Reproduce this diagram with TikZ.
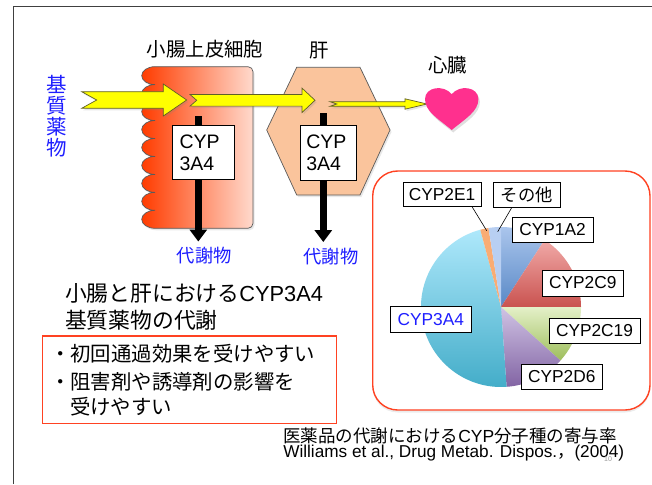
\documentclass[tikz,border=0pt]{standalone}
\usepackage{fontspec}
\setmainfont{Liberation Sans}
\newfontfamily\jp{Noto Sans CJK JP}
\usetikzlibrary{arrows.meta,shadows}

\definecolor{frameline}{HTML}{404040}
\definecolor{substblue}{RGB}{30,30,255}
\definecolor{boxred}{RGB}{255,66,34}
\definecolor{cellleft}{RGB}{255,60,0}
\definecolor{cellmid}{RGB}{255,125,85}
\definecolor{cellright}{RGB}{255,218,205}
\definecolor{liverfill}{RGB}{250,196,156}
\definecolor{heartpink}{RGB}{255,48,142}
\definecolor{arrowyellow}{RGB}{255,255,0}
\definecolor{arrowedge}{RGB}{95,95,40}
\definecolor{outlinegray}{RGB}{90,90,90}
% pie colours (light top, dark bottom)
\definecolor{pA}{RGB}{170,197,236}\definecolor{pAd}{RGB}{88,136,198}
\definecolor{pB}{RGB}{241,170,168}\definecolor{pBd}{RGB}{201,82,79}
\definecolor{pC}{RGB}{228,240,200}\definecolor{pCd}{RGB}{158,190,92}
\definecolor{pD}{RGB}{208,195,228}\definecolor{pDd}{RGB}{130,100,164}
\definecolor{pE}{RGB}{174,232,251}\definecolor{pEd}{RGB}{66,172,200}
\definecolor{pF}{RGB}{249,172,116}
\definecolor{pG}{RGB}{184,207,242}

% notched block arrow: x tail, x tip, y centre, shaft half height,
% head half height, head length, notch depth
\newcommand{\blockarrow}[7]{%
  \filldraw[yellowarrow] (#1,#3-#4) -- (#2-#6,#3-#4) -- (#2-#6,#3-#5) -- (#2,#3)
    -- (#2-#6,#3+#5) -- (#2-#6,#3+#4) -- (#1,#3+#4) -- (#1+#7,#3) -- cycle;}

\begin{document}
\begin{tikzpicture}[x=1pt,y=-1pt,
  every node/.style={inner sep=0pt,outer sep=0pt},
  head/.style={font=\jp\fontsize{19.4}{22}\selectfont},
  bluelabel/.style={text=substblue,font=\jp\fontsize{18.3}{21}\selectfont},
  cypbox/.style={draw=black,line width=0.7,fill=white,align=left,
    font=\fontsize{19.5}{22}\selectfont},
  metabarrow/.style={line width=7.3,-{Triangle[width=17,length=12]},shorten >=6pt},
  yellowarrow/.style={fill=arrowyellow,draw=arrowedge,line width=0.7,
    drop shadow={opacity=0.2,shadow xshift=1.5pt,shadow yshift=-2pt}},
  pielabel/.style={draw=black,line width=0.7,fill=white,
    font=\fontsize{17.3}{20}\selectfont},
  bodytext/.style={anchor=west,font=\fontsize{21.8}{26}\selectfont},
  bullettext/.style={anchor=west,font=\jp\fontsize{20.4}{24}\selectfont},
  captiontext/.style={anchor=west,font=\fontsize{17.5}{20}\selectfont},
]
\useasboundingbox (0,0) rectangle (652,484);

% slide frame
\draw[frameline,line width=1.4] (13.3,484) -- (13.3,6.7) -- (652,6.7);

% intestinal epithelial cell with villi on its luminal side
\shade[left color=cellleft,middle color=cellmid,right color=cellright,
  draw=outlinegray,line width=0.7,
  drop shadow={opacity=0.18,shadow xshift=1.5pt,shadow yshift=-2pt}]
  (155,66.7) -- (248,66.7) arc[start angle=-90,end angle=0,radius=5]
  -- (253,223.3) arc[start angle=0,end angle=90,radius=5]
  -- (155,228.3)
  \foreach \i in {1,...,9} { arc[start angle=90,end angle=270,x radius=13.3,y radius=8.98] }
  -- cycle;

% liver
\filldraw[fill=liverfill,draw=outlinegray,line width=0.7,
  drop shadow={opacity=0.18,shadow xshift=1.5pt,shadow yshift=-2pt}]
  (296.7,67.3) -- (360,67.3) -- (390,130) -- (360,195) -- (296.7,195)
  -- (266.7,130) -- cycle;

% heading labels
\node[head] (cellname) at (205,49) {小腸上皮細胞};
\node[head] (livername) at (319,50) {肝};
\node[head] (heartname) at (447.5,65.5) {心臓};
\node[text=substblue,font=\jp\fontsize{20.5}{21}\selectfont,align=center]
  (substrate) at (56.7,116.5) {基\\質\\薬\\物};

% metabolites
\node[bluelabel] (metab1) at (204.2,256) {代謝物};
\node[bluelabel] (metab2) at (331,256.5) {代謝物};
\coordinate (top1) at (198.3,116);
\coordinate (top2) at (323.3,113.3);
\draw[metabarrow] (top1) -- (top1 |- metab1.north);
\draw[metabarrow] (top2) -- (top2 |- metab2.north);

% CYP3A4 in each organ
\node[cypbox,minimum width=61.6,minimum height=53.3,text width=48] (cyp1)
  at (203.5,152.3) {CYP\\3A4};
\node[cypbox,minimum width=56.7,minimum height=55,text width=44] (cyp2)
  at (328.3,152.5) {CYP\\3A4};

% drug flow: lumen -> enterocyte -> liver -> heart
\blockarrow{81.7}{186.7}{100}{8.3}{16}{23.4}{15}
\blockarrow{190}{315}{100.3}{5.8}{12.2}{13}{6.7}
\blockarrow{330}{427}{104}{2.3}{5.2}{22}{6.7}

% heart
\begin{scope}[shift={(451.7,105.3)},xscale=26.7,yscale=-24.7]
  \fill[heartpink,drop shadow={opacity=0.25,shadow xshift=1.5pt,shadow yshift=-2.5pt}]
    (0,-1) .. controls (-0.5,-0.55) and (-1,-0.25) .. (-1,0.25)
    .. controls (-1,0.75) and (-0.3,0.85) .. (0,0.45)
    .. controls (0.3,0.85) and (1,0.75) .. (1,0.25)
    .. controls (1,-0.25) and (0.5,-0.55) .. (0,-1) -- cycle;
\end{scope}

% summary text
\node[bodytext] (sum1) at (65,293.3) {{\jp 小腸と肝における}CYP3A4};
\node[bodytext] (sum2) at (65,320) {{\jp 基質薬物の代謝}};
\draw[boxred,line width=1.3] (42.7,336) rectangle (336.7,423.3);
\node[bullettext] (pt1) at (50,353.3) {・初回通過効果を受けやすい};
\node[bullettext] (pt2) at (50,381.7) {・阻害剤や誘導剤の影響を};
\node[bullettext] (pt3) at (70,406.7) {受けやすい};

% contribution of CYP isoforms
\draw[boxred,line width=1.4,rounded corners=25,fill=white,
  drop shadow={opacity=0.15,shadow xshift=0pt,shadow yshift=-2.5pt}]
  (372.7,171) rectangle (650,410);

\begin{scope}[shift={(501,307)},yscale=-1]
  \shade[top color=pA,bottom color=pAd] (0,0) -- (57:80) arc[start angle=57,end angle=90,radius=80] -- cycle;
  \shade[top color=pB,bottom color=pBd] (0,0) -- (0:80) arc[start angle=0,end angle=57,radius=80] -- cycle;
  \shade[top color=pC,bottom color=pCd] (0,0) -- (-42:80) arc[start angle=-42,end angle=0,radius=80] -- cycle;
  \shade[top color=pD,bottom color=pDd] (0,0) -- (-86:80) arc[start angle=-86,end angle=-42,radius=80] -- cycle;
  \shade[top color=pE,bottom color=pEd] (0,0) -- (105:80) arc[start angle=105,end angle=274,radius=80] -- cycle;
  \fill[pF] (0,0) -- (99:80) arc[start angle=99,end angle=105,radius=80] -- cycle;
  \fill[pG] (0,0) -- (90:80) arc[start angle=90,end angle=99,radius=80] -- cycle;
\end{scope}

\node[pielabel,minimum width=78,minimum height=24.7] (l2e1) at (442,194.3) {CYP2E1};
\node[pielabel,minimum width=66.3,minimum height=25,font=\jp\fontsize{17.3}{20}\selectfont] (lother) at (526.8,195) {その他};
\node[pielabel,minimum width=81,minimum height=25.7] (l1a2) at (552.5,229.8) {CYP1A2};
\node[pielabel,minimum width=80.3,minimum height=26] (l2c9) at (582.8,283) {CYP2C9};
\node[pielabel,minimum width=91,minimum height=25] (l2c19) at (594.5,330.5) {CYP2C19};
\node[pielabel,minimum width=80.3,minimum height=25] (l2d6) at (561.8,376.5) {CYP2D6};
\node[pielabel,minimum width=81.7,minimum height=25.3,text=substblue] (l3a4) at (430.8,319.3) {CYP3A4};

\coordinate (s2e1) at (486.7,230.7);
\coordinate (sother) at (497.7,231.7);
\draw[line width=0.6] ([xshift=-9pt]l2e1.south east) -- (s2e1);
\draw[line width=0.6] ([xshift=-15pt]lother.south) -- (sother);

% caption and source
\node[captiontext] (cap1) at (283.3,435.5) {{\jp 医薬品の代謝における}CYP{\jp 分子種の寄与率}};
\node[captiontext,font=\fontsize{17.2}{20}\selectfont] (cap2) at (283.3,453.5)
  {Williams et al., Drug Metab. Dispos.{\jp ，}(2004)};
\node[font=\fontsize{7}{8}\selectfont,text=black!40] (pageno) at (608,459) {10};
\end{tikzpicture}
\end{document}
